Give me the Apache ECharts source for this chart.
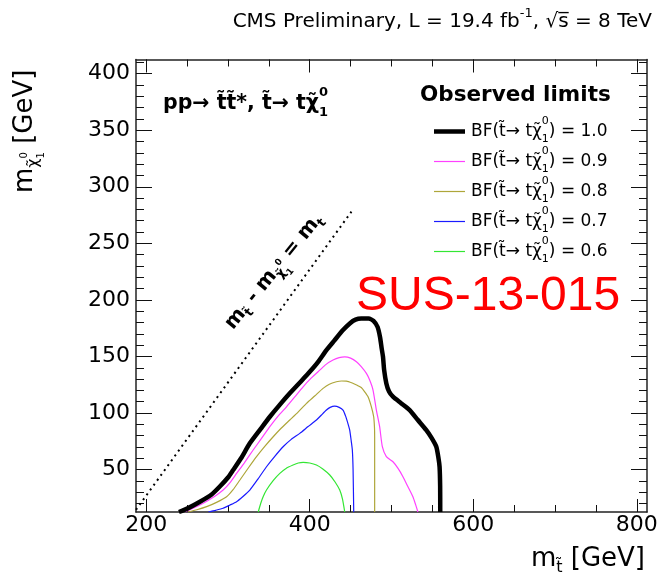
<!DOCTYPE html>
<html>
<head>
<meta charset="utf-8">
<script src="https://cdn.jsdelivr.net/npm/echarts@6/dist/echarts.min.js"></script>
<style>
  html, body { margin: 0; padding: 0; background: #fff; }
  #chart { width: 661px; height: 582px; }
</style>
</head>
<body>
<div id="chart"></div>
<script>
// axis ranges and ticks
const xMin = 187.5, xMax = 812.5;
const yMin = 12.5, yMax = 412.5;
const xMajorTicks = [200, 400, 600, 800];
const xMinorTicks = [200, 250, 300, 350, 400, 450, 500, 550, 600, 650, 700, 750, 800];
const yMajorTicks = [50, 100, 150, 200, 250, 300, 350, 400];
const yMinorTicks = [20, 30, 40, 50, 60, 70, 80, 90, 100, 110, 120, 130, 140, 150, 160, 170, 180, 190, 200,
  210, 220, 230, 240, 250, 260, 270, 280, 290, 300, 310, 320, 330, 340, 350, 360, 370, 380, 390, 400, 410];

// observed limit contours, [m_stop, m_LSP]
const obs10 = [[240, 12.5], [250, 15.5], [265.7, 21.6], [280, 28], [290, 35], [300, 43], [306.3, 49.6], [316, 60],
  [326.7, 73.2], [340, 86], [351.2, 96.7], [363, 107], [375.6, 117.4], [388, 127], [400, 136.4], [410, 145],
  [420.4, 155.6], [430, 164], [440.7, 173.3], [449, 179.2], [456, 182.5], [463, 183.5], [472, 183.5], [478, 181.5],
  [483, 176], [486, 167], [488, 157], [489.6, 149.7], [491, 138], [493.7, 126.2], [497, 119], [501.8, 114.4],
  [512, 108.5], [522.2, 102.6], [532, 94], [542.6, 84.9], [549, 78], [554.8, 70.2], [557.5, 60], [558.8, 52.5],
  [559.5, 35], [559.6, 12.5]];
const obs09 = [[247, 12.5], [258, 16], [269.7, 20.2], [282, 25.5], [294.1, 31.9], [302, 38], [310.5, 46.6], [320, 56],
  [330.8, 67.3], [341, 77.5], [351.2, 87.9], [361, 97], [371.6, 105.5], [382, 114.5], [391.9, 123.2], [402, 131],
  [412.3, 137.9], [420, 143], [428.5, 146.8], [436, 149], [442.8, 149.7], [450, 148.5], [457.1, 145.3], [463, 141],
  [469.3, 135], [473.3, 129.1], [477.4, 120.3], [481.5, 102.6], [485.5, 87.9], [488.8, 70.2], [493.7, 61.4],
  [501.8, 56.9], [508, 51], [514, 43.7], [520, 35], [526.2, 26], [529.5, 19], [532.3, 12.5]];
const obs08 = [[251, 12.5], [262, 14.5], [273.9, 17.2], [286, 21], [298.3, 26], [306, 32], [314.6, 40.8], [324, 50.5],
  [334.9, 61.4], [345, 70.5], [355.3, 79], [365, 86.5], [375.6, 93.8], [386, 101], [396, 108.5], [406, 115],
  [416.3, 121.8], [424, 125.5], [432.6, 127.6], [439, 128.3], [444.9, 128.2], [452, 126.5], [458, 124.5],
  [463, 122.5], [467, 119], [471.3, 114.4], [475.4, 105.5], [478.2, 96.7], [479.2, 87], [479.4, 79], [479.4, 12.5]];
const obs07 = [[276, 12.5], [285, 14], [294.1, 15.8], [302, 18.5], [310.5, 21.6], [318, 26], [326.7, 31.9], [337, 42],
  [347.1, 52.5], [357, 61.5], [367.4, 70.2], [377, 76.5], [387.8, 82], [398, 88], [408.2, 93.8], [414, 98],
  [420.4, 102.6], [425, 105], [430.5, 106.1], [436, 105], [440.7, 102.6], [444, 97], [447, 90], [448.9, 84.9],
  [450.8, 75], [452.1, 67.3], [453, 50], [453.8, 12.5]];
const obs06 = [[337, 12.5], [340, 20], [343, 26], [347.1, 31.9], [355, 40], [363.4, 46.6], [371, 51], [379.6, 54],
  [386, 55.8], [391.9, 56.4], [400, 55.8], [408.2, 54], [416, 50.5], [424.5, 45.2], [431, 39], [436.7, 31.9],
  [440, 24], [442.8, 12.5]];
// m_stop - m_LSP = m_top diagonal
const diagLine = [[187.5, 14.5], [451, 278]];

const bfLabels = ['1.0', '0.9', '0.8', '0.7', '0.6'];
const bfColors = ['#000000', '#ff40ff', '#aea63a', '#1a1aff', '#33e633'];
const bfWidths = [4.5, 1.2, 1.2, 1.2, 1.2];
const bfData = [obs10, obs09, obs08, obs07, obs06];

const FONT = '"DejaVu Sans"';
const measureCtx = document.createElement('canvas').getContext('2d');
function measure(str, font) {
  measureCtx.font = font;
  return measureCtx.measureText(str).width;
}

// text with sub/superscripts built from pieces
function mathLabel(opt) {
  let cx = 0;
  const children = [];
  opt.parts.forEach(function (p) {
    const font = (p.b ? 'bold ' : '') + p.s + 'px ' + FONT;
    children.push({
      type: 'text', x: cx, y: p.dy || 0,
      style: { text: p.t, font: font, fill: opt.color || '#000', align: 'left', verticalAlign: 'middle' }
    });
    if (!p.stay) cx += measure(p.t, font);
  });
  const shift = opt.align === 'right' ? -cx : 0;
  children.forEach(function (c) { c.x += shift; });
  return { type: 'group', x: opt.x, y: opt.y, rotation: opt.rotation || 0, silent: true, children: children };
}

const chart = echarts.init(document.getElementById('chart'));

function tickAxis(pos, isX, ticks, len, main) {
  const ax = {
    type: 'value',
    position: pos,
    min: isX ? xMin : yMin,
    max: isX ? xMax : yMax,
    splitLine: { show: false },
    axisLine: { show: main, onZero: false, lineStyle: { color: '#222', width: 1.5 } },
    axisTick: { show: true, inside: true, length: len, customValues: ticks, lineStyle: { color: '#111', width: 1 } },
    axisLabel: { show: false }
  };
  return ax;
}

const xAxes = [
  tickAxis('bottom', true, xMajorTicks, 13, true),
  tickAxis('top', true, xMajorTicks, 13, true),
  tickAxis('bottom', true, xMinorTicks, 7, false),
  tickAxis('top', true, xMinorTicks, 7, false)
];
xAxes[0].axisLabel = {
  show: true, customValues: xMajorTicks, margin: 2,
  fontSize: 22, fontFamily: 'DejaVu Sans', color: '#000'
};
const yAxes = [
  tickAxis('left', false, yMajorTicks, 16, true),
  tickAxis('right', false, yMajorTicks, 16, true),
  tickAxis('left', false, yMinorTicks, 8, false),
  tickAxis('right', false, yMinorTicks, 8, false)
];
yAxes[0].axisLabel = {
  show: true, customValues: yMajorTicks, margin: 6,
  fontSize: 22, fontFamily: 'DejaVu Sans', color: '#000'
};

const series = bfData.map(function (d, i) {
  return {
    name: 'BF ' + bfLabels[i],
    type: 'line',
    data: d,
    showSymbol: false,
    smooth: 0.2,
    clip: true,
    z: 10 - i,
    lineStyle: { color: bfColors[i], width: bfWidths[i] }
  };
});
series.push({
  name: 'diag',
  type: 'line',
  data: diagLine,
  showSymbol: false,
  lineStyle: { color: '#000', width: 2, type: [2, 4] }
});

// graphic texts
const graphics = [];
graphics.push(mathLabel({
  x: 652, y: 22, align: 'right',
  parts: [
    { t: 'CMS Preliminary, L = 19.4 fb', s: 20 },
    { t: '-1', s: 13, dy: -8 },
    { t: ', \u221as\u0305 = 8 TeV', s: 20 }
  ]
}));
graphics.push(mathLabel({
  x: 163, y: 104,
  parts: [
    { t: 'pp\u2192 t\u0303t\u0303*, t\u0303\u2192 t\u03c7\u0303', s: 20.5, b: true },
    { t: '0', s: 13, b: true, dy: -11, stay: true },
    { t: '1', s: 13, b: true, dy: 9 }
  ]
}));
graphics.push(mathLabel({
  x: 420, y: 95.5,
  parts: [{ t: 'Observed limits', s: 21.5, b: true }]
}));
bfLabels.forEach(function (lab, i) {
  const cy = 131.5 + 30 * i;
  graphics.push({
    type: 'line', silent: true,
    shape: { x1: 434, y1: cy, x2: 465, y2: cy },
    style: { stroke: bfColors[i], lineWidth: bfWidths[i] }
  });
  graphics.push(mathLabel({
    x: 471, y: cy,
    parts: [
      { t: 'BF(t\u0303\u2192 t\u03c7\u0303', s: 17 },
      { t: '0', s: 11, dy: -10, stay: true },
      { t: '1', s: 11, dy: 8 },
      { t: ') = ' + lab, s: 17 }
    ]
  }));
});
graphics.push({
  type: 'text', x: 356, y: 296.5, silent: true,
  style: { text: 'SUS-13-015', font: '48px "Liberation Sans"', fill: '#ff0000', align: 'left', verticalAlign: 'middle' }
});
// diagonal label
graphics.push(mathLabel({
  x: 229, y: 327, rotation: 51 * Math.PI / 180,
  parts: [
    { t: 'm', s: 20, b: true },
    { t: 't\u0303', s: 13, b: true, dy: 7 },
    { t: ' - m', s: 20, b: true },
    { t: '\u03c7\u0303', s: 13, b: true, dy: 7 },
    { t: '0', s: 9, b: true, dy: -2, stay: true },
    { t: '1', s: 9, b: true, dy: 13 },
    { t: ' = m', s: 20, b: true },
    { t: 't', s: 13, b: true, dy: 7 }
  ]
}));
// axis titles
graphics.push(mathLabel({
  x: 645, y: 559, align: 'right',
  parts: [
    { t: 'm', s: 26 },
    { t: 't\u0303', s: 16, dy: 9 },
    { t: ' [GeV]', s: 26 }
  ]
}));
graphics.push(mathLabel({
  x: 25, y: 193, rotation: Math.PI / 2,
  parts: [
    { t: 'm', s: 26 },
    { t: '\u03c7\u0303', s: 16, dy: 9 },
    { t: '0', s: 10, dy: -1, stay: true },
    { t: '1', s: 10, dy: 16 },
    { t: ' [GeV]', s: 26 }
  ]
}));

chart.setOption({
  animation: false,
  backgroundColor: '#ffffff',
  grid: { left: 136, right: 14, top: 59.5, bottom: 70, outerBoundsMode: 'none' },
  xAxis: xAxes,
  yAxis: yAxes,
  series: series,
  graphic: graphics
});
</script>
</body>
</html>
